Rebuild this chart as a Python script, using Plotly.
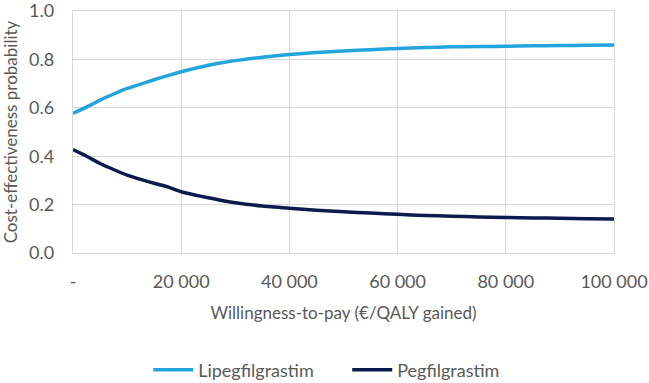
import plotly.graph_objects as go

wtp = [0, 2500, 5000, 7500, 10000, 12500, 15000, 17500, 20000, 22500, 25000, 27500,
       30000, 35000, 40000, 45000, 50000, 55000, 60000, 65000, 70000, 75000, 80000,
       85000, 90000, 95000, 100000]
lipegfilgrastim = [0.577, 0.603, 0.632, 0.657, 0.680, 0.698, 0.716, 0.733, 0.749, 0.763,
                   0.776, 0.786, 0.795, 0.809, 0.820, 0.828, 0.835, 0.840, 0.845, 0.849,
                   0.852, 0.853, 0.854, 0.856, 0.857, 0.858, 0.859]
pegfilgrastim = [0.427, 0.400, 0.370, 0.345, 0.322, 0.304, 0.288, 0.273, 0.253, 0.240,
                 0.228, 0.217, 0.208, 0.194, 0.185, 0.177, 0.170, 0.165, 0.160, 0.155,
                 0.152, 0.149, 0.147, 0.145, 0.144, 0.142, 0.141]
x_tickvals = [0, 20000, 40000, 60000, 80000, 100000]
x_ticktext = ["-", "20 000", "40 000", "60 000", "80 000", "100 000"]
y_tickvals = [0, 0.2, 0.4, 0.6, 0.8, 1.0]
y_ticktext = ["0.0", "0.2", "0.4", "0.6", "0.8", "1.0"]

FONT = "Lato"
TXT = "#595959"
GRID = "#d9d9d9"

fig = go.Figure()
fig.add_trace(go.Scatter(x=wtp, y=lipegfilgrastim, mode="lines", name="Lipegfilgrastim",
                         line=dict(color="#22A5DD", width=3.5, shape="spline", smoothing=0.6)))
fig.add_trace(go.Scatter(x=wtp, y=pegfilgrastim, mode="lines", name="Pegfilgrastim",
                         line=dict(color="#0C1A4D", width=3.5, shape="spline", smoothing=0.6)))

fig.update_layout(
    width=649, height=383,
    margin=dict(l=73, r=35, t=11, b=130, autoexpand=False),
    plot_bgcolor="white", paper_bgcolor="white",
    font=dict(family=FONT, size=17, color=TXT),
    showlegend=True,
    legend=dict(orientation="h", xref="container", x=0.535, xanchor="center",
                yref="container", y=0.034, yanchor="middle",
                font=dict(family=FONT, size=18, color=TXT), itemwidth=40,
                entrywidth=144, entrywidthmode="pixels"),
    xaxis=dict(range=[0, 100000], tickvals=x_tickvals, ticktext=x_ticktext,
               automargin=False, tickfont=dict(size=18), ticklabeloverflow="allow",
               showgrid=True, gridcolor=GRID, gridwidth=1.3, zeroline=False,
               showline=True, linecolor=GRID, linewidth=1.3, mirror=True,
               ticks="outside", ticklen=12, tickcolor="rgba(0,0,0,0)",
               title=dict(text="Willingness-to-pay (€/QALY gained)", standoff=16,
                          font=dict(family=FONT, size=17, color=TXT))),
    yaxis=dict(range=[0, 1.0], tickvals=y_tickvals, ticktext=y_ticktext,
               automargin=False, tickfont=dict(size=18), ticklabeloverflow="allow",
               showgrid=True, gridcolor=GRID, gridwidth=1.3, zeroline=False,
               showline=True, linecolor=GRID, linewidth=1.3, mirror=True,
               ticks="outside", ticklen=14, tickcolor="rgba(0,0,0,0)",
               title=dict(text="Cost-effectiveness probability", standoff=8,
                          font=dict(family=FONT, size=17, color=TXT))),
)

fig.write_html("out.html", config={"displayModeBar": False},
               post_script="document.body.style.margin='0';document.body.style.padding='0';")
